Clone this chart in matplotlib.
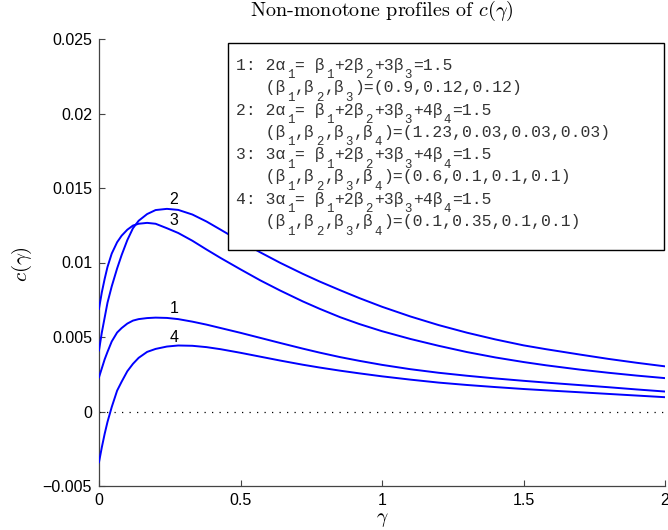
import numpy as np
import matplotlib
matplotlib.use('Agg')
import matplotlib.pyplot as plt
from matplotlib.patches import Rectangle

plt.rcParams['font.family'] = ['Liberation Sans', 'DejaVu Sans']
plt.rcParams['mathtext.fontset'] = 'cm'

# values
gamma = [0, 0.01, 0.02, 0.03, 0.045, 0.064, 0.08, 0.1, 0.12, 0.14, 0.17, 0.2, 0.24, 0.28, 0.33, 0.38,
         0.43, 0.5, 0.57, 0.64, 0.72, 0.78, 0.852, 0.92, 1.0, 1.1, 1.2, 1.3, 1.4, 1.5, 1.58, 1.7, 1.8, 1.9, 2.0]
c1 = [0.0023, 0.0029, 0.0035, 0.0040, 0.0047, 0.0053, 0.0056, 0.0059, 0.0061, 0.0062, 0.00627, 0.0063,
      0.00628, 0.0062, 0.00603, 0.00583, 0.0056, 0.00528, 0.00494, 0.0046, 0.00422, 0.00395, 0.00365, 0.0034,
      0.00313, 0.00284, 0.0026, 0.0024, 0.00222, 0.00206, 0.00194, 0.00177, 0.00163, 0.00148, 0.00134]
c2 = [0.0041, 0.0053, 0.0063, 0.0073, 0.0084, 0.0096, 0.0105, 0.0115, 0.0123, 0.0128, 0.01325, 0.01352,
      0.0136, 0.01353, 0.01322, 0.01275, 0.0122, 0.01142, 0.01068, 0.00998, 0.00924, 0.00872, 0.00814, 0.00761,
      0.00703, 0.00638, 0.0058, 0.00529, 0.00484, 0.00444, 0.00418, 0.00382, 0.00353, 0.00327, 0.00303]
c3 = [0.0069, 0.0080, 0.0089, 0.0097, 0.0106, 0.01136, 0.0118, 0.0122, 0.01248, 0.0126, 0.01266, 0.0126,
      0.0123, 0.01198, 0.01146, 0.01087, 0.0103, 0.00954, 0.0088, 0.00812, 0.00739, 0.00689, 0.00633, 0.00587,
      0.00539, 0.00487, 0.00441, 0.00399, 0.00363, 0.00332, 0.0031, 0.00281, 0.0026, 0.00241, 0.00224]
c4 = [-0.0034, -0.0024, -0.0015, -0.0007, 0.0003, 0.0014, 0.0020, 0.0027, 0.0032, 0.0036, 0.0040, 0.0042,
      0.00436, 0.00443, 0.00441, 0.00432, 0.00418, 0.00394, 0.00368, 0.00342, 0.00314, 0.00295, 0.00274, 0.00256,
      0.00236, 0.00214, 0.00194, 0.00178, 0.00164, 0.00151, 0.00142, 0.00129, 0.00118, 0.00107, 0.00096]

curve_names = ['1', '2', '3', '4']
name_x = [0.265, 0.265, 0.265, 0.265]
name_y = [0.0069, 0.0142, 0.0128, 0.0050]

xticks = [0, 0.5, 1, 1.5, 2]
xticklabels = ['0', '0.5', '1', '1.5', '2']
yticks = [-0.005, 0, 0.005, 0.01, 0.015, 0.02, 0.025]
yticklabels = ['\u22120.005', '0', '0.005', '0.01', '0.015', '0.02', '0.025']

# "_" marks the next char as a subscript
legend_rows = [
    '1: 2\u03b1_1= \u03b2_1+2\u03b2_2+3\u03b2_3=1.5',
    '   (\u03b2_1,\u03b2_2,\u03b2_3)=(0.9,0.12,0.12)',
    '2: 2\u03b1_1= \u03b2_1+2\u03b2_2+3\u03b2_3+4\u03b2_4=1.5',
    '   (\u03b2_1,\u03b2_2,\u03b2_3,\u03b2_4)=(1.23,0.03,0.03,0.03)',
    '3: 3\u03b1_1= \u03b2_1+2\u03b2_2+3\u03b2_3+4\u03b2_4=1.5',
    '   (\u03b2_1,\u03b2_2,\u03b2_3,\u03b2_4)=(0.6,0.1,0.1,0.1)',
    '4: 3\u03b1_1= \u03b2_1+2\u03b2_2+3\u03b2_3+4\u03b2_4=1.5',
    '   (\u03b2_1,\u03b2_2,\u03b2_3,\u03b2_4)=(0.1,0.35,0.1,0.1)',
]

W, H = 668, 530
fig = plt.figure(figsize=(W / 100, H / 100), dpi=100)
ax = fig.add_axes([99 / W, 1 - 486 / H, (665 - 99) / W, (486 - 39) / H])


def fx(px):
    return px / W


def fy(py):
    return 1 - py / H


for c in [c1, c2, c3, c4]:
    ax.plot(gamma, c, color='#0000ff', lw=1.4, zorder=3, solid_joinstyle='round')
ax.plot([0, 2], [0, 0], color='black', lw=0.9, linestyle=(0, (1, 5)), zorder=2)

for n, x, y in zip(curve_names, name_x, name_y):
    ax.text(x, y, n, ha='center', va='center', fontsize=11.5)

ax.set_xlim(0, 2)
ax.set_ylim(-0.005, 0.025)
ax.set_xticks(xticks)
ax.set_xticklabels(xticklabels)
ax.set_yticks(yticks)
ax.set_yticklabels(yticklabels)
ax.tick_params(direction='in', length=4, width=0.8, color='#444444', labelsize=11.5)
ax.tick_params(axis='x', pad=5)
ax.tick_params(axis='y', pad=5)
for s in ['top', 'right']:
    ax.spines[s].set_visible(False)
for s in ['left', 'bottom']:
    ax.spines[s].set_color('#444444')
    ax.spines[s].set_linewidth(0.9)

fig.text(fx(382), fy(11), 'Non-monotone profiles of $c(\\gamma)$', ha='center', va='center',
         fontsize=14.5, fontname='cmr10')
fig.text(fx(382), fy(529), '$\\gamma$', ha='center', va='bottom', fontsize=14)
fig.text(fx(22), fy(264), '$c(\\gamma)$', ha='center', va='center', fontsize=15, rotation=90)

# legend-like box with the parameter sets
box = Rectangle((fx(228), fy(250)), fx(664) - fx(228), fy(43) - fy(250), transform=fig.transFigure,
                facecolor='white', edgecolor='black', lw=1.0, zorder=10)
fig.patches.append(box)

cw = 9.8
fs = cw / (0.6 * 100 / 72)
mono = ['Liberation Mono', 'DejaVu Sans Mono']
x0 = 236.5


def put_segment(seg, col, base):
    if seg.strip():
        fig.text(fx(x0 + col * cw), fy(base), seg, ha='left', va='baseline', fontsize=fs, family=mono,
                 color='#333333', zorder=11)


for i, row in enumerate(legend_rows):
    base = 70 + i * 22.3
    seg = ''
    seg_col = 0
    col = 0
    k = 0
    while k < len(row):
        if row[k] == '_':
            put_segment(seg, seg_col, base)
            fig.text(fx(x0 + (col + 0.5) * cw), fy(base + 8.5), row[k + 1], ha='center', va='baseline',
                     fontsize=fs * 0.76, family=mono, color='#333333', zorder=11)
            k += 2
            col += 1
            seg = ''
            seg_col = col
        else:
            seg += row[k]
            k += 1
            col += 1
    put_segment(seg, seg_col, base)

fig.savefig('out.png', dpi=100)
